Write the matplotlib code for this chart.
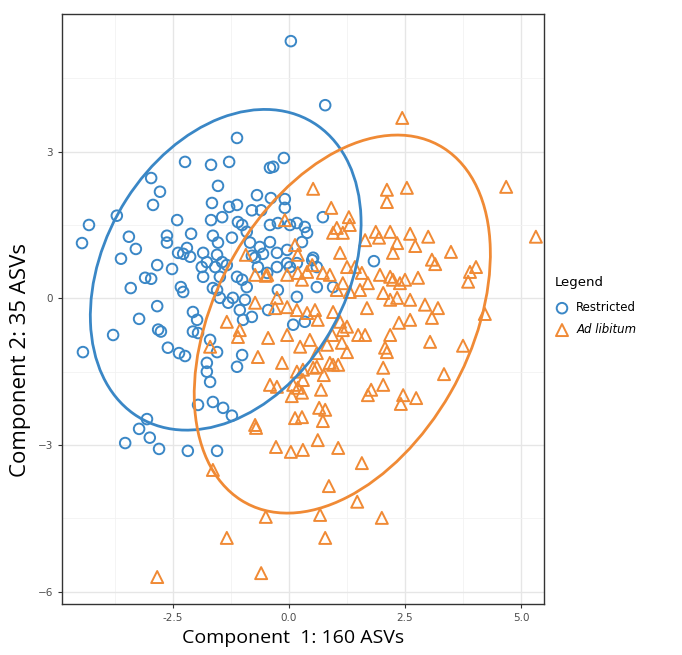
import numpy as np
import matplotlib
matplotlib.use("Agg")
import matplotlib.pyplot as plt
from matplotlib.patches import Ellipse
from matplotlib.ticker import MultipleLocator

# Restricted group (component 1, component 2)
restricted_x = [0.04, 0.78, -1.12, -2.24, -1.68, -1.29, -2.97, -2.78, -2.93, -1.53,
                -0.41, -0.34, -0.11, -0.39, -0.09, -1.66, -1.29, -1.12, -0.69, -0.80,
                -0.60, -0.09, -4.31, -3.71, -4.46, -3.45, -3.30, -3.62, -2.63, -2.63,
                -2.41, -2.11, -1.68, -1.64, -1.53, -1.23, -1.10, -1.01, -0.91, -0.41,
                -0.24, 0.02, 0.17, -2.20, -2.39, -2.13, -1.85, -1.55, -1.77, -1.88,
                -1.59, -1.44, -1.34, -0.84, -0.63, -0.41, -0.26, -0.04, -0.73, -0.67,
                -0.47, -0.26, -0.04, 0.17, -2.84, -2.52, -3.10, -2.97, -3.41, -2.33,
                -2.28, -1.85, -1.64, -1.55, -1.12, -1.01, -0.95, -1.21, -1.31, -1.49,
                -2.84, -3.23, -2.82, -2.76, -3.79, -4.44, -2.61, -2.37, -2.24, -2.07,
                -1.98, -2.07, -1.96, -1.70, -1.55, -1.77, -1.77, -1.70, -1.01, -1.12,
                -0.80, -1.06, -0.91, -0.24, 0.09, -0.45, -1.96, -1.64, -1.42, -1.23,
                -3.06, -3.23, -3.00, -3.53, -2.80, -2.18, -1.55, -0.99, 0.34, 0.60,
                0.17, 0.02, 0.60, -1.49, 0.73, 0.39, 0.28, 0.50, 0.95, 1.83,
                0.34, -2.28, -0.56, -1.44, -0.80, 0.52]
restricted_y = [5.26, 3.95, 3.28, 2.79, 2.73, 2.79, 2.46, 2.18, 1.91, 2.30,
                2.67, 2.69, 2.87, 2.05, 2.03, 1.95, 1.87, 1.91, 2.11, 1.80,
                1.80, 1.85, 1.50, 1.69, 1.13, 1.26, 1.01, 0.81, 1.28, 1.14,
                1.60, 1.32, 1.60, 1.28, 1.14, 1.24, 1.56, 1.50, 1.36, 1.50,
                1.54, 1.50, 1.54, 1.03, 0.93, 0.85, 0.93, 0.89, 0.74, 0.64,
                0.64, 0.74, 0.68, 1.14, 1.05, 1.15, 0.93, 0.99, 0.83, 0.64,
                0.52, 0.64, 0.72, 0.72, 0.68, 0.60, 0.42, 0.40, 0.21, 0.23,
                0.13, 0.44, 0.21, 0.17, 0.44, 0.38, -0.03, 0.01, -0.09, 0.01,
                -0.16, -0.42, -0.64, -0.68, -0.75, -1.10, -1.01, -1.12, -1.18, -0.28,
                -0.44, -0.68, -0.71, -0.85, -1.10, -1.32, -1.50, -1.71, -1.16, -1.40,
                -0.38, -0.24, 0.23, 0.17, -0.54, -0.24, -2.18, -2.12, -2.24, -2.40,
                -2.47, -2.67, -2.85, -2.96, -3.08, -3.12, -3.12, -0.44, -0.48, 0.23,
                0.03, 0.64, 0.64, 0.44, 1.66, 1.34, 1.15, 0.78, 0.23, 0.76,
                1.46, 0.91, 0.91, 1.66, 0.87, 0.83]

# Ad libitum group
adlib_x = [2.44, 0.52, 2.11, 2.54, 2.11, 4.68, 0.91, 1.29, 1.03, 0.95,
           1.16, 1.31, 1.87, 1.94, 2.18, 2.61, 3.00, 5.32, 2.72, 2.33,
           2.24, 3.49, 3.08, 3.15, 3.90, 4.03, 3.86, 1.64, 1.10, 1.42,
           1.96, 2.24, 2.39, 2.50, 2.78, 0.88, 0.39, 0.28, 1.03, 1.53,
           1.70, 2.03, 2.61, 2.93, 3.21, 4.22, 2.18, 1.68, 2.37, 2.61,
           3.08, 1.10, 1.16, 1.49, 1.64, 2.18, 2.07, 2.11, 3.04, 3.75,
           0.93, 1.14, 1.25, 0.45, 0.95, 1.06, 2.03, 3.34, 0.75, 0.52,
           0.30, 0.69, 1.77, 2.03, 1.70, 2.46, 2.74, 2.41, 0.65, 0.78,
           0.73, 0.62, 0.30, 1.06, 1.57, 0.86, 1.47, 0.67, 2.00, 0.78,
           -0.71, -0.28, 0.04, 0.13, 0.28, 0.06, 0.28, -1.64, -0.50, -1.34,
           -2.84, -0.60, -0.73, -0.47, -0.04, 0.19, 0.50, 0.73, 1.25, 1.57,
           1.16, -0.73, -0.26, -0.30, -0.04, 0.17, 0.56, 0.62, 0.95, 1.25,
           -1.34, -1.06, -1.10, -1.70, -0.45, -0.04, 0.24, 0.60, 0.82, -0.67,
           -0.15, 0.30, 0.60, 0.88, -0.41, -0.26, 0.09, 0.19, -0.73, -0.93,
           -0.50, 0.13, 0.19, -0.09, 0.17, 2.18, 1.31, 2.33, 0.39]
adlib_y = [3.69, 2.24, 2.22, 2.26, 1.97, 2.28, 1.85, 1.66, 1.44, 1.34,
           1.34, 1.50, 1.36, 1.24, 1.36, 1.32, 1.26, 1.26, 1.07, 1.13,
           0.93, 0.95, 0.79, 0.70, 0.54, 0.64, 0.34, 1.19, 0.93, 0.64,
           0.48, 0.38, 0.31, 0.38, 0.42, 0.48, 0.54, 0.38, 0.17, 0.17,
           0.31, 0.11, -0.03, -0.13, -0.20, -0.32, -0.03, -0.20, -0.50, -0.44,
           -0.40, -0.48, -0.65, -0.75, -0.75, -0.75, -1.01, -1.10, -0.89, -0.97,
           -0.75, -0.91, -1.10, -0.85, -1.36, -1.36, -1.42, -1.55, -1.57, -1.42,
           -1.67, -1.87, -1.87, -1.77, -1.98, -1.98, -2.04, -2.16, -2.24, -2.28,
           -2.51, -2.90, -3.10, -3.06, -3.37, -3.84, -4.16, -4.43, -4.49, -4.90,
           -2.65, -3.04, -3.14, -2.45, -2.43, -2.00, -1.93, -3.51, -4.47, -4.90,
           -5.70, -5.62, 0.48, 0.48, 0.48, 0.52, 0.68, 0.52, 0.64, 0.52,
           0.31, -0.09, 0.01, -0.20, -0.18, -0.24, -0.24, -0.44, -0.28, -0.58,
           -0.48, -0.65, -0.79, -0.99, -0.81, -0.75, -0.99, -1.12, -0.95, -1.20,
           -1.32, -1.46, -1.40, -1.32, -1.77, -1.81, -1.77, -1.83, -2.59, 0.89,
           0.46, 1.09, 0.89, 1.60, -1.50, 0.44, 0.13, 0.01, -0.30]

blue = "#3A87C6"
orange = "#F08A35"


def cov_trob(pts, nu=5, iters=50):
    # multivariate t robust estimate, as ggplot's stat_ellipse (type "t")
    w = np.ones(len(pts))
    for _ in range(iters):
        loc = (w[:, None] * pts).sum(0) / w.sum()
        d = pts - loc
        cov = (w[:, None] * d).T @ d / len(pts)
        m = np.einsum("ij,jk,ik->i", d, np.linalg.inv(cov), d)
        w = (nu + 2) / (nu + m)
    return loc, cov


def conf_ellipse(x, y, color, ax, fq=3.55):
    pts = np.column_stack([x, y])
    loc, cov = cov_trob(pts)
    vals, vecs = np.linalg.eigh(cov)
    order = vals.argsort()[::-1]
    vals, vecs = vals[order], vecs[:, order]
    angle = np.degrees(np.arctan2(vecs[1, 0], vecs[0, 0]))
    r = np.sqrt(2 * fq)
    e = Ellipse(loc, 2 * r * np.sqrt(vals[0]), 2 * r * np.sqrt(vals[1]),
                angle=angle, fill=False, edgecolor=color, lw=2.0, zorder=4)
    ax.add_patch(e)


fig = plt.figure(figsize=(6.82, 6.55), dpi=100)
ax = fig.add_axes([0.091, 0.078, 0.707, 0.901])

ax.scatter(restricted_x, restricted_y, s=58, facecolors="none", edgecolors=blue,
           linewidths=1.4, marker="o", zorder=3, label="Restricted")
ax.scatter(adlib_x, adlib_y, s=75, facecolors="none", edgecolors=orange,
           linewidths=1.4, marker="^", zorder=3, label="Ad libitum")
conf_ellipse(restricted_x, restricted_y, blue, ax)
conf_ellipse(adlib_x, adlib_y, orange, ax)

ax.set_xlim(-4.89, 5.5)
ax.set_ylim(-6.25, 5.82)
ax.set_xticks([-2.5, 0, 2.5, 5.0])
ax.set_xticklabels(["-2.5", "0.0", "2.5", "5.0"])
ax.set_yticks([-6, -3, 0, 3])
ax.xaxis.set_minor_locator(MultipleLocator(1.25))
ax.yaxis.set_minor_locator(MultipleLocator(1.5))
ax.grid(which="major", color="#e6e6e6", lw=1.0)
ax.grid(which="minor", color="#f2f2f2", lw=0.6)
ax.set_axisbelow(True)
ax.tick_params(which="major", labelsize=7.5, labelcolor="#4d4d4d", color="#333333", length=3)
ax.tick_params(which="minor", length=0)
for s in ax.spines.values():
    s.set_color("#333333")
    s.set_linewidth(1.0)

fig.text(0.43, 0.012, "Component  1: 160 ASVs", fontsize=14, ha="center", va="bottom",
         family="Open Sans")
fig.text(0.03, 0.45, "Component 2: 35 ASVs", fontsize=16, rotation=90, ha="center",
         va="center", family="Open Sans")

leg = ax.legend(loc="upper left", bbox_to_anchor=(1.005, 0.57), frameon=False,
                title="Legend", fontsize=8.5, title_fontsize=9.5, handletextpad=0.6,
                borderaxespad=0.3, labelspacing=0.75, handlelength=1.2)
leg._legend_box.align = "left"
leg._legend_box.sep = 9
leg.get_texts()[1].set_style("italic")

fig.savefig("out.png", dpi=100)
